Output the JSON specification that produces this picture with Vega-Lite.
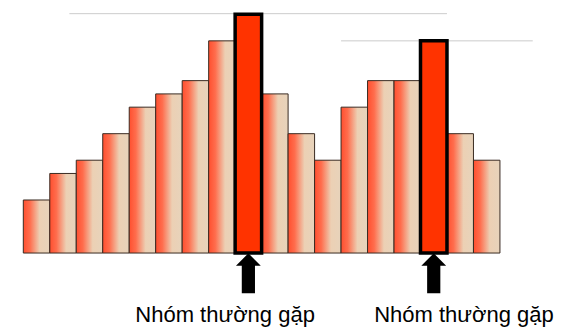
{
  "$schema": "https://vega.github.io/schema/vega-lite/v6.json",
  "width": 561,
  "height": 335,
  "autosize": {"type": "fit", "contains": "padding"},
  "padding": 0,
  "background": "white",
  "config": {"view": {"stroke": null}},
  "datasets": {
    "bars": [
      {"start": 0, "end": 1, "count": 4, "common": false},
      {"start": 1, "end": 2, "count": 6, "common": false},
      {"start": 2, "end": 3, "count": 7, "common": false},
      {"start": 3, "end": 4, "count": 9, "common": false},
      {"start": 4, "end": 5, "count": 11, "common": false},
      {"start": 5, "end": 6, "count": 12, "common": false},
      {"start": 6, "end": 7, "count": 13, "common": false},
      {"start": 7, "end": 8, "count": 16, "common": false},
      {"start": 8, "end": 9, "count": 18, "common": true},
      {"start": 9, "end": 10, "count": 12, "common": false},
      {"start": 10, "end": 11, "count": 9, "common": false},
      {"start": 11, "end": 12, "count": 7, "common": false},
      {"start": 12, "end": 13, "count": 11, "common": false},
      {"start": 13, "end": 14, "count": 13, "common": false},
      {"start": 14, "end": 15, "count": 13, "common": false},
      {"start": 15, "end": 16, "count": 16, "common": true},
      {"start": 16, "end": 17, "count": 9, "common": false},
      {"start": 17, "end": 18, "count": 7, "common": false}
    ],
    "refs": [
      {"from": 1.74, "to": 16.0, "level": 18.05},
      {"from": 12.0, "to": 19.24, "level": 16.0}
    ],
    "labels": [
      {"pos": 7.62, "text": "Nhóm thường gặp"},
      {"pos": 16.64, "text": "Nhóm thường gặp"}
    ]
  },
  "layer": [
    {
      "data": {"name": "refs"},
      "mark": {"type": "rule", "color": "#cccccc", "strokeWidth": 1},
      "encoding": {
        "x": {"field": "from", "type": "quantitative", "scale": {"domain": [-0.88, 20.306], "nice": false, "zero": false}, "axis": null},
        "x2": {"field": "to"},
        "y": {"field": "level", "type": "quantitative", "scale": {"domain": [-6.18, 19.08], "nice": false, "zero": false}, "axis": null}
      }
    },
    {
      "data": {"name": "bars"},
      "transform": [{"filter": "!datum.common"}],
      "mark": {
        "type": "rect",
        "stroke": "#3a2b22",
        "strokeWidth": 1,
        "fill": {
          "gradient": "linear",
          "x1": 0, "y1": 0, "x2": 1, "y2": 0,
          "stops": [
            {"offset": 0, "color": "#ff4f2f"},
            {"offset": 0.25, "color": "#ff6d4d"},
            {"offset": 0.62, "color": "#ecd0b4"},
            {"offset": 1, "color": "#e7d3bb"}
          ]
        }
      },
      "encoding": {
        "x": {"field": "start", "type": "quantitative", "scale": {"domain": [-0.88, 20.306], "nice": false, "zero": false}, "axis": null},
        "x2": {"field": "end"},
        "y": {"field": "count", "type": "quantitative", "scale": {"domain": [-6.18, 19.08], "nice": false, "zero": false}, "axis": null},
        "y2": {"datum": 0}
      }
    },
    {
      "data": {"name": "bars"},
      "transform": [{"filter": "datum.common"}],
      "mark": {"type": "rect", "fill": "#ff3300", "stroke": "#000000", "strokeWidth": 3.5},
      "encoding": {
        "x": {"field": "start", "type": "quantitative", "scale": {"domain": [-0.88, 20.306], "nice": false, "zero": false}, "axis": null},
        "x2": {"field": "end"},
        "y": {"field": "count", "type": "quantitative", "scale": {"domain": [-6.18, 19.08], "nice": false, "zero": false}, "axis": null},
        "y2": {"datum": 0}
      }
    },
    {
      "data": {"name": "bars"},
      "transform": [
        {"filter": "datum.common"},
        {"calculate": "(datum.start + datum.end) / 2", "as": "mid"}
      ],
      "mark": {
        "type": "point",
        "shape": "M0,-1L0.62,-0.38L0.33,-0.38L0.33,1L-0.33,1L-0.33,-0.38L-0.62,-0.38Z",
        "size": 1600,
        "filled": true,
        "fill": "#000000",
        "opacity": 1,
        "strokeWidth": 0
      },
      "encoding": {
        "x": {"field": "mid", "type": "quantitative", "scale": {"domain": [-0.88, 20.306], "nice": false, "zero": false}, "axis": null},
        "y": {"datum": -1.527, "type": "quantitative", "scale": {"domain": [-6.18, 19.08], "nice": false, "zero": false}, "axis": null}
      }
    },
    {
      "data": {"name": "labels"},
      "mark": {"type": "text", "font": "Liberation Sans", "fontSize": 22, "color": "#000000", "align": "center", "baseline": "alphabetic"},
      "encoding": {
        "x": {"field": "pos", "type": "quantitative", "scale": {"domain": [-0.88, 20.306], "nice": false, "zero": false}, "axis": null},
        "y": {"datum": -5.222, "type": "quantitative", "scale": {"domain": [-6.18, 19.08], "nice": false, "zero": false}, "axis": null},
        "text": {"field": "text"}
      }
    }
  ]
}
